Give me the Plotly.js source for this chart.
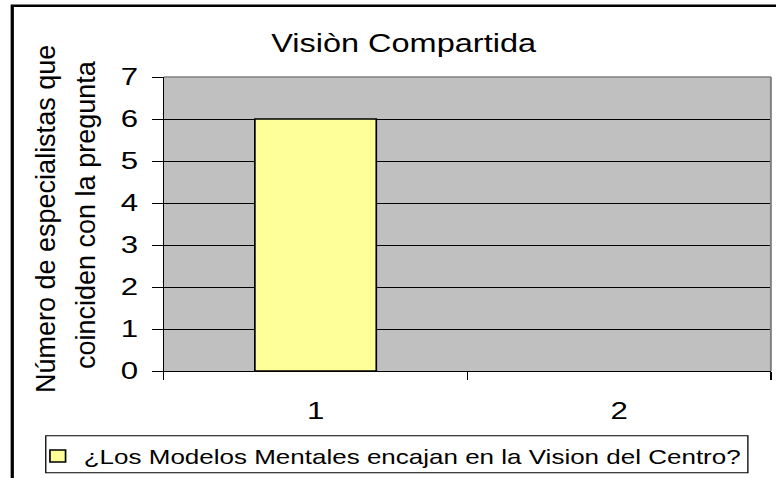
<!DOCTYPE html>
<html><head><meta charset="utf-8">
<script src="https://cdn.plot.ly/plotly-3.0.1.min.js"></script>
<style>
html,body{margin:0;padding:0;background:#fff;overflow:hidden}
#wrap{width:776px;height:478px;overflow:hidden;position:relative}
#chart{position:absolute;left:0;top:0;width:597px;height:478px;transform:scaleX(1.3);transform-origin:0 0}
#ytitle{position:absolute;left:0;top:0;width:776px;height:478px;pointer-events:none}
</style>
</head><body><div id="wrap"><div id="chart"></div><div id="ytitle"></div></div>
<script>
const categories = ['1', '2'];
const values = [6, null];
const seriesName = '¿Los Modelos Mentales encajan en la Vision del Centro?';
const yTickVals = [0, 1, 2, 3, 4, 5, 6, 7];
const titleText = 'Visiòn Compartida';
const yTitleLines = ['Número de especialistas que', 'coinciden con la pregunta'];

const FONT = 'Liberation Sans, Arial, sans-serif';

const trace = {
  type: 'bar',
  x: categories,
  y: values,
  name: seriesName,
  showlegend: true,
  marker: {color: '#FFFF99', line: {color: '#000000', width: 1.3}},
  hoverinfo: 'none'
};

const layout = {
  width: 597, height: 478,
  margin: {l: 126, r: 4, t: 77, b: 106},
  paper_bgcolor: '#ffffff',
  plot_bgcolor: '#C0C0C0',
  font: {family: FONT, color: '#000000'},
  bargap: 0.6,
  showlegend: true,
  title: {
    text: titleText,
    font: {family: FONT, size: 25, color: '#000000'},
    xref: 'paper', x: 0.395, xanchor: 'center',
    yref: 'container', y: 1 - 43 / 478, yanchor: 'middle'
  },
  xaxis: {
    type: 'category',
    range: [-0.5, 1.5],
    tickson: 'boundaries',
    ticks: 'outside', ticklen: 8, tickwidth: 1, tickcolor: '#000000',
    showline: true, linecolor: '#000000', linewidth: 1,
    showgrid: false, zeroline: false,
    tickfont: {family: FONT, size: 24, color: '#000000'},
    ticklabelstandoff: 18,
    fixedrange: true
  },
  yaxis: {
    range: [0, 7],
    tickmode: 'array', tickvals: yTickVals,
    ticks: 'outside', ticklen: 8, tickwidth: 1, tickcolor: '#000000',
    showline: true, linecolor: '#000000', linewidth: 1,
    showgrid: true, gridcolor: '#000000', gridwidth: 1,
    zeroline: false,
    tickfont: {family: FONT, size: 24, color: '#000000'},
    ticklabelstandoff: 6,
    fixedrange: true
  },
  legend: {
    orientation: 'h',
    x: -0.2175, xanchor: 'left',
    y: -0.2847, yanchor: 'middle',
    bgcolor: 'rgba(0,0,0,0)', borderwidth: 0,
    font: {family: FONT, size: 20, color: '#000000'},
    itemwidth: 30
  },
  shapes: [
    {type: 'rect', xref: 'paper', yref: 'paper', x0: -0.2496, x1: 1.05, y0: -0.45, y1: 1.2424,
     line: {color: '#000000', width: 2.5}, fillcolor: 'rgba(0,0,0,0)', layer: 'above'},
    {type: 'line', xref: 'paper', yref: 'paper', x0: 0, x1: 1, y0: 1, y1: 1,
     line: {color: '#808080', width: 1.5}, layer: 'above'},
    {type: 'line', xref: 'paper', yref: 'paper', x0: 1, x1: 1, y0: 0, y1: 1,
     line: {color: '#808080', width: 1.5}, layer: 'above'},
    {type: 'rect', xref: 'paper', yref: 'paper', x0: -0.1944, x1: 0.9621, y0: -0.3458, y1: -0.2203,
     line: {color: '#000000', width: 1}, fillcolor: 'rgba(0,0,0,0)', layer: 'above'}
  ]
};

Plotly.newPlot('chart', [trace], layout, {staticPlot: true, displayModeBar: false});

// Axis title drawn unscaled in an overlay (rotated text in the reference is not stretched)
const titleLayout = {
  width: 776, height: 478,
  margin: {l: 0, r: 0, t: 0, b: 0},
  paper_bgcolor: 'rgba(0,0,0,0)',
  plot_bgcolor: 'rgba(0,0,0,0)',
  xaxis: {visible: false, range: [0, 1]},
  yaxis: {visible: false, range: [0, 1]},
  showlegend: false,
  annotations: [
    {text: yTitleLines[0], xref: 'paper', yref: 'paper', x: 46 / 776, y: 1 - 219 / 478,
     xanchor: 'center', yanchor: 'middle', textangle: -90, showarrow: false,
     font: {family: FONT, size: 27, color: '#000000'}},
    {text: yTitleLines[1], xref: 'paper', yref: 'paper', x: 86 / 776, y: 1 - 215 / 478,
     xanchor: 'center', yanchor: 'middle', textangle: -90, showarrow: false,
     font: {family: FONT, size: 27, color: '#000000'}}
  ]
};
Plotly.newPlot('ytitle', [], titleLayout, {staticPlot: true, displayModeBar: false});
</script>
</body></html>
